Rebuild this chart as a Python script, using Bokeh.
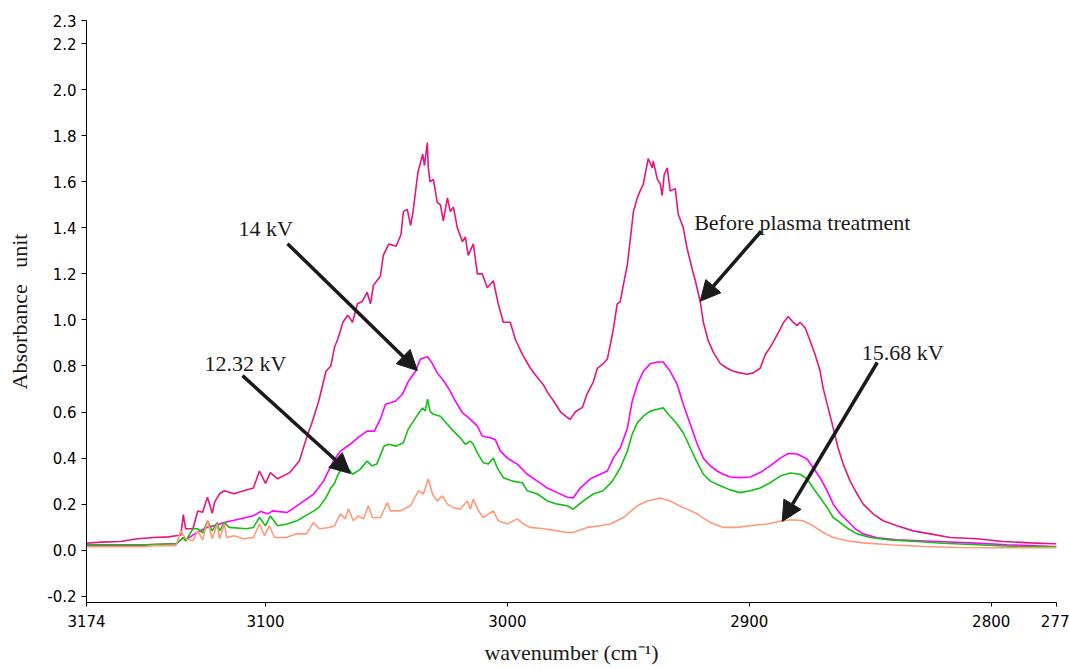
from bokeh.plotting import figure
from bokeh.models import Range1d, FixedTicker, PrintfTickFormatter, Arrow, NormalHead, Label
from bokeh.embed import file_html
from bokeh.resources import INLINE

# FTIR spectra, C-H stretching region (wavenumber in cm-1, absorbance)
wn_before = [3174, 3168, 3160, 3153, 3146, 3140, 3137, 3135, 3134, 3133, 3130, 3128, 3126, 3124, 3122,
             3121, 3119, 3117, 3113, 3109, 3105, 3102.5, 3100, 3098, 3095, 3090, 3086, 3083, 3081, 3078,
             3075, 3073, 3071.5, 3070, 3068, 3066, 3064, 3062, 3060, 3058, 3056.6, 3055.4, 3052.5, 3051.3,
             3049, 3046, 3044, 3043, 3041.4, 3040, 3039, 3037, 3035, 3034.3, 3033.1, 3032.7, 3032, 3030.6,
             3029, 3027.7, 3026.5, 3024.8, 3023.6, 3022.3, 3020.7, 3018.6, 3017.4, 3016.2, 3014.1, 3012.4,
             3010.4, 3008.3, 3005.8, 3003.8, 3001.7, 2998.8, 2996.7, 2993.8, 2990.5, 2987.6, 2985.2, 2983.1,
             2981, 2978, 2975, 2974, 2972, 2969, 2967, 2964.5, 2962.8, 2960.4, 2958.7, 2957.5, 2956.2, 2954.6,
             2953.3, 2952.1, 2950.4, 2949.2, 2947.9, 2946.3, 2945.1, 2943.8, 2941.8, 2940.1, 2939.7, 2938,
             2936.8, 2936, 2935.2, 2933.9, 2932.7, 2930.6, 2929.4, 2927.3, 2925.7, 2923.6, 2922.3, 2920.3,
             2919, 2917, 2914.9, 2912, 2909.1, 2906.6, 2903.8, 2900.9, 2898.4, 2895.5, 2893.4, 2891.4, 2889.3,
             2887.2, 2886, 2883.9, 2881.9, 2880.2, 2879, 2876.9, 2874.8, 2872.8, 2870.7, 2869.5, 2867.4,
             2865.3, 2863.3, 2861.2, 2858.3, 2855.4, 2852.9, 2848.8, 2844.7, 2838.9, 2832.3, 2825.2, 2817,
             2805.8, 2795.1, 2783.9, 2774.4, 2773]
abs_before = [0.030, 0.035, 0.038, 0.050, 0.055, 0.058, 0.063, 0.065, 0.154, 0.093, 0.093, 0.170, 0.165, 0.230, 0.160,
              0.210, 0.245, 0.258, 0.245, 0.258, 0.270, 0.344, 0.290, 0.337, 0.310, 0.337, 0.387, 0.490, 0.547, 0.647,
              0.777, 0.800, 0.880, 0.920, 0.990, 1.020, 0.990, 1.070, 1.080, 1.120, 1.070, 1.150, 1.190, 1.280,
              1.330, 1.320, 1.370, 1.470, 1.480, 1.410, 1.470, 1.640, 1.720, 1.670, 1.770, 1.660, 1.600, 1.610,
              1.510, 1.500, 1.430, 1.530, 1.470, 1.490, 1.400, 1.340, 1.360, 1.280, 1.330, 1.200,
              1.200, 1.140, 1.170, 1.070, 0.990, 0.990, 0.915, 0.850, 0.790, 0.750, 0.720, 0.680,
              0.650, 0.600, 0.575, 0.568, 0.600, 0.620, 0.680, 0.730, 0.790, 0.810, 0.830, 0.890, 0.960, 1.070,
              1.080, 1.150, 1.240, 1.350, 1.470, 1.530, 1.560, 1.590, 1.700, 1.660, 1.690, 1.610,
              1.590, 1.540, 1.630, 1.660, 1.560, 1.570, 1.460, 1.400, 1.310, 1.220, 1.170, 1.080,
              0.990, 0.910, 0.860, 0.810, 0.790, 0.777, 0.770, 0.764, 0.770, 0.790, 0.850, 0.880, 0.920,
              0.960, 0.986, 1.015, 0.990, 0.975, 0.990, 0.965, 0.907, 0.850, 0.777, 0.705, 0.618,
              0.530, 0.445, 0.374, 0.300, 0.244, 0.200, 0.158, 0.128, 0.106, 0.084, 0.071, 0.055,
              0.050, 0.038, 0.032, 0.028, 0.028]

wn_14kv = [3174, 3150, 3140, 3137, 3134, 3133, 3128, 3124, 3120, 3117, 3105, 3102, 3099, 3097, 3091, 3086,
           3080, 3076, 3072, 3069, 3065, 3061, 3058, 3055, 3052.5, 3050.4, 3046.3, 3043.4, 3040.9, 3038, 3036,
           3033, 3031, 3029, 3025.7, 3023.6, 3021.5, 3018.6, 3015.3, 3012.4, 3010.4, 3007.1, 3005, 3002.9,
           3000, 2995.9, 2991.8, 2987.6, 2983.5, 2979.4, 2975.2, 2972.8, 2969.9, 2965.7, 2961.6, 2958.7,
           2956.2, 2953.3, 2950.4, 2948.4, 2946.3, 2943.8, 2940.9, 2938, 2935.6, 2932.7, 2929.8, 2927.3,
           2924.4, 2921.5, 2919, 2916.1, 2913.3, 2910.8, 2907.9, 2903.8, 2899.6, 2895.5, 2891.4, 2887.2,
           2883.9, 2880.2, 2876.1, 2873.6, 2870.7, 2867.8, 2865.3, 2862.4, 2859.5, 2856.2, 2852.9, 2847.1,
           2838.9, 2822.3, 2808.7, 2793.4, 2774.4, 2773]
abs_14kv = [0.020, 0.022, 0.028, 0.028, 0.055, 0.045, 0.080, 0.100, 0.110, 0.120, 0.150, 0.168, 0.158, 0.171, 0.164, 0.200,
            0.245, 0.300, 0.387, 0.430, 0.460, 0.495, 0.517, 0.517, 0.570, 0.634, 0.647, 0.677, 0.734, 0.777, 0.830,
            0.840, 0.810, 0.770, 0.726, 0.690, 0.647, 0.597, 0.568, 0.539, 0.496, 0.488, 0.480, 0.430,
            0.400, 0.374, 0.330, 0.300, 0.270, 0.250, 0.230, 0.227, 0.270, 0.310, 0.330, 0.344,
            0.400, 0.445, 0.530, 0.647, 0.720, 0.777, 0.810, 0.817, 0.817, 0.777, 0.720, 0.634,
            0.547, 0.460, 0.400, 0.366, 0.344, 0.330, 0.318, 0.315, 0.318, 0.337, 0.366, 0.400,
            0.420, 0.418, 0.396, 0.358, 0.315, 0.258, 0.200, 0.158, 0.128, 0.093, 0.071, 0.054,
            0.045, 0.038, 0.032, 0.024, 0.016, 0.016]

wn_12kv = [3174, 3150, 3137, 3134, 3133, 3130, 3128, 3126, 3124, 3122, 3120, 3119, 3117, 3115, 3108, 3105,
           3102.5, 3100, 3098, 3095, 3091, 3087, 3080, 3078, 3075, 3073, 3071.5, 3070, 3068, 3066, 3064, 3061,
           3058, 3056, 3054, 3051, 3049, 3046, 3043, 3041, 3037, 3035, 3034, 3033, 3032, 3030.6, 3027.7,
           3024.8, 3022.3, 3019.5, 3017.4, 3015.3, 3014.1, 3012.4, 3010, 3007.9, 3005.8, 3004.2, 3001.7,
           2997.9, 2993.8, 2991.8, 2987.6, 2983.5, 2979.4, 2975.2, 2972.8, 2968.6, 2964.5, 2960.4, 2956.6,
           2953.3, 2950.4, 2948.4, 2946.3, 2943.8, 2940.9, 2938, 2935.6, 2932.7, 2929.8, 2927.3, 2924.4,
           2921.5, 2919, 2916.1, 2912, 2907.9, 2903.8, 2899.6, 2895.5, 2891.4, 2887.2, 2883.1, 2879, 2876.1,
           2873.6, 2870.7, 2867.8, 2865.3, 2862.4, 2859.1, 2855.4, 2850, 2841.8, 2830.6, 2819.9, 2805.8,
           2789.3, 2775.7, 2773]
abs_12kv = [0.024, 0.024, 0.028, 0.055, 0.040, 0.093, 0.093, 0.075, 0.128, 0.084, 0.120, 0.084, 0.120, 0.099, 0.093, 0.099,
            0.142, 0.106, 0.149, 0.106, 0.114, 0.128, 0.171, 0.185, 0.228, 0.270, 0.290, 0.330, 0.358, 0.358, 0.330, 0.350,
            0.387, 0.366, 0.374, 0.452, 0.460, 0.452, 0.467, 0.526, 0.590, 0.618, 0.604, 0.656, 0.604, 0.590, 0.582,
            0.547, 0.517, 0.488, 0.460, 0.474, 0.460, 0.423, 0.380, 0.374, 0.400, 0.358, 0.315,
            0.300, 0.293, 0.258, 0.244, 0.214, 0.200, 0.193, 0.178, 0.214, 0.244, 0.258, 0.300,
            0.358, 0.430, 0.504, 0.553, 0.582, 0.604, 0.612, 0.618, 0.582, 0.547, 0.510, 0.445,
            0.380, 0.330, 0.300, 0.280, 0.262, 0.250, 0.258, 0.270, 0.293, 0.322, 0.335, 0.330, 0.310,
            0.270, 0.228, 0.185, 0.142, 0.120, 0.093, 0.071, 0.055, 0.045, 0.038, 0.030, 0.024,
            0.016, 0.015, 0.015]

wn_15kv = [3174, 3150, 3146, 3137, 3135, 3133, 3130, 3128, 3126, 3124, 3122, 3120, 3119, 3117, 3116, 3113,
           3109, 3105, 3102.5, 3100.4, 3098.4, 3096.3, 3091.4, 3087.2, 3083.1, 3080.2, 3077.7, 3073.6, 3071.5,
           3069, 3067, 3065.7, 3063.7, 3061.6, 3059.5, 3057.5, 3055.8, 3052.5, 3049.6, 3048.4, 3044.2, 3040.1,
           3036.8, 3034.7, 3032.7, 3031, 3029, 3026.9, 3024.8, 3022.3, 3019.5, 3016.6, 3015.3, 3014.1, 3012,
           3010, 3005.8, 3003.8, 3000, 2995.9, 2993.4, 2990.5, 2985.2, 2979.4, 2975.2, 2972.8, 2967, 2961.6,
           2957.5, 2952.1, 2946.3, 2942.2, 2936.8, 2932.7, 2927.3, 2921.5, 2916.1, 2910.8, 2905, 2899.6,
           2892.6, 2886.4, 2881.9, 2877.7, 2873.6, 2869.5, 2865.3, 2859.5, 2852.9, 2841.8, 2828.1, 2814.1,
           2800.4, 2773]
abs_15kv = [0.015, 0.015, 0.020, 0.020, 0.084, 0.050, 0.041, 0.084, 0.045, 0.128, 0.050, 0.114, 0.050, 0.114, 0.055, 0.063,
            0.050, 0.055, 0.114, 0.063, 0.106, 0.055, 0.055, 0.071, 0.071, 0.120, 0.093, 0.099, 0.106,
            0.158, 0.136, 0.180, 0.128, 0.149, 0.136, 0.193, 0.142, 0.142, 0.207, 0.171, 0.171, 0.193,
            0.258, 0.244, 0.310, 0.244, 0.214, 0.236, 0.200, 0.185, 0.178, 0.214, 0.178, 0.222, 0.171,
            0.142, 0.171, 0.128, 0.114, 0.136, 0.114, 0.099, 0.093, 0.084, 0.077, 0.077, 0.099, 0.106,
            0.114, 0.142, 0.193, 0.214, 0.227, 0.214, 0.185, 0.158, 0.120, 0.099, 0.099, 0.106,
            0.114, 0.128, 0.132, 0.128, 0.106, 0.077, 0.055, 0.041, 0.032, 0.024, 0.016, 0.012,
            0.011, 0.011]

x_ticks = [3174, 3100, 3000, 2900, 2800, 2773]
y_ticks = [-0.2, 0.0, 0.2, 0.4, 0.6, 0.8, 1.0, 1.2, 1.4, 1.6, 1.8, 2.0, 2.2, 2.3]

SERIF = "Liberation Serif"
SANS = "DejaVu Sans"
INK = "#1a1a1a"

p = figure(width=1069, height=669,
           x_range=Range1d(3174, 2773), y_range=Range1d(-0.227, 2.3),
           output_backend="svg", toolbar_location=None,
           min_border_left=86, min_border_right=13, min_border_top=20, min_border_bottom=67)
p.background_fill_color = "white"
p.border_fill_color = "white"
p.outline_line_color = None
p.xgrid.visible = False
p.ygrid.visible = False

# axes
p.xaxis.ticker = FixedTicker(ticks=x_ticks)
p.xaxis.major_label_overrides = {2773: "277"}
p.yaxis.ticker = FixedTicker(ticks=y_ticks)
p.yaxis.formatter = PrintfTickFormatter(format="%.1f")
for ax in (p.xaxis[0], p.yaxis[0]):
    ax.axis_line_color = "black"
    ax.axis_line_width = 1
    ax.major_tick_line_color = "black"
    ax.major_tick_in = 0
    ax.minor_tick_line_color = None
    ax.major_label_text_font = SANS
    ax.major_label_text_font_size = "15px"
    ax.major_label_text_color = "black"
    ax.axis_label_text_font = SERIF
    ax.axis_label_text_font_size = "22px"
    ax.axis_label_text_font_style = "normal"
    ax.axis_label_text_color = INK
p.xaxis.major_tick_out = 4
p.xaxis.major_label_standoff = 8
p.yaxis.major_tick_out = 5
p.yaxis.major_label_standoff = 5

p.yaxis.axis_label = "Absorbance\u00a0\u00a0 unit"
p.yaxis.axis_label_standoff = 12
p.xaxis.axis_label = "wavenumber (cm\u207b\u00b9)"
p.xaxis.axis_label_standoff = 10

# spectra
p.line(wn_before, abs_before, line_color="#E6157F", line_width=1.6)
p.line(wn_14kv, abs_14kv, line_color="#FF00FF", line_width=1.6)
p.line(wn_12kv, abs_12kv, line_color="#13C013", line_width=1.6)
p.line(wn_15kv, abs_15kv, line_color="#FF9A78", line_width=1.6)

# callout arrows and labels
callouts = [
    ("14 kV", 3111.2, 1.396, 3090.9, 1.331, 3037.2, 0.780),
    ("12.32 kV", 3125.2, 0.811, 3109.5, 0.758, 3064.9, 0.333),
    ("Before plasma treatment", 2922.8, 1.424, 2895.1, 1.385, 2920.3, 1.081),
    ("15.68 kV", 2853.5, 0.859, 2847.1, 0.815, 2886.4, 0.125),
]
for text, tx, ty, x0, y0, x1, y1 in callouts:
    p.add_layout(Label(x=tx, y=ty, text=text, text_font=SERIF, text_font_size="22px",
                       text_color=INK, text_baseline="alphabetic", text_align="left"))
    p.add_layout(Arrow(x_start=x0, y_start=y0, x_end=x1, y_end=y1,
                       line_color=INK, line_width=3.5,
                       end=NormalHead(size=20, fill_color=INK, line_color=INK, line_width=1)))

open("out.html", "w").write(file_html(p, INLINE))
